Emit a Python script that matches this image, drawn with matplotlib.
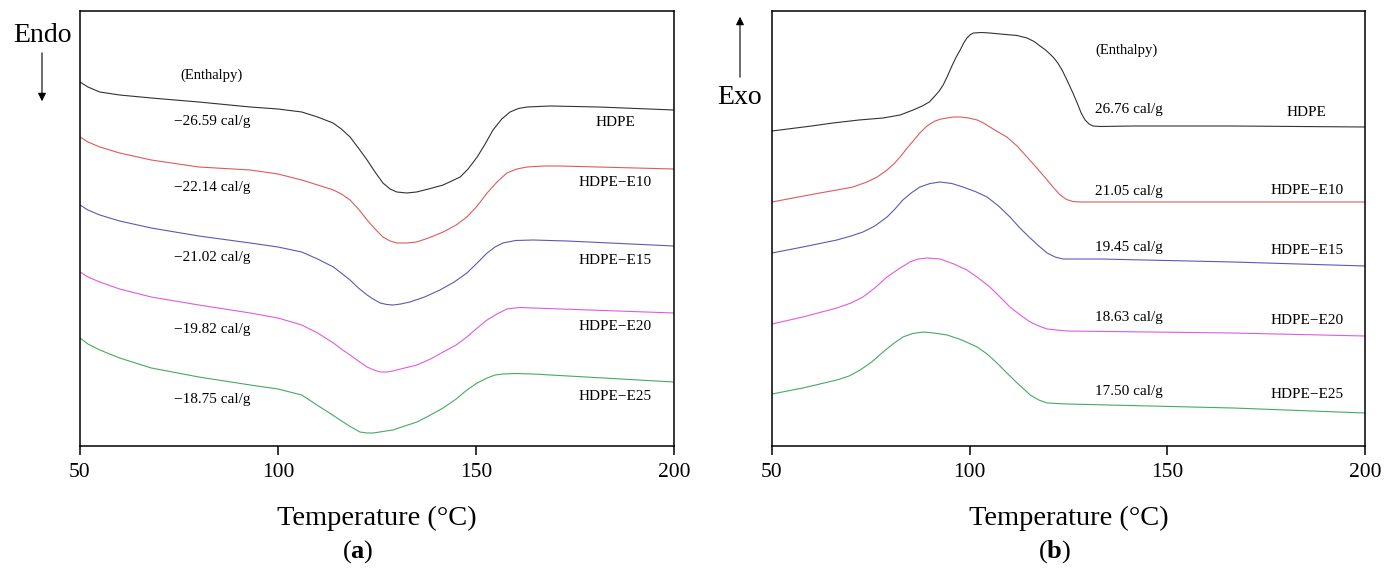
import matplotlib
matplotlib.use("Agg")
import matplotlib.pyplot as plt

plt.rcParams["font.family"] = ["Liberation Serif", "DejaVu Serif"]
plt.rcParams["mathtext.fontset"] = "custom"
plt.rcParams["mathtext.rm"] = "Liberation Serif"
plt.rcParams["mathtext.bf"] = "Liberation Serif:bold"

samples = ["HDPE", "HDPE\u2212E10", "HDPE\u2212E15", "HDPE\u2212E20", "HDPE\u2212E25"]
colors = ["#333333", "#e05a5a", "#5a5ab4", "#e05ae0", "#46aa64"]

# (a) melting curves: temperature (C) and heat flow (arbitrary units)
melt_T = [
    [50, 52, 55, 60, 68, 80, 93, 100, 106, 110, 113.9, 116, 118.2, 120.3, 122.5, 124.5, 126.5, 128.3, 130, 132.5,
     135, 138, 141.7, 146, 148, 150.3, 152.3, 154.3, 156.5, 158.6, 160.7, 162.9, 168.7, 181, 200],
    [50, 52, 55, 60, 68, 80, 93, 100, 106, 110, 114, 116, 118.2, 120.3, 122.5, 124.5, 126.5, 128.3, 130, 132.5,
     135, 138, 141.7, 145, 147.7, 150.3, 152.8, 155.3, 157.8, 160.3, 162.9, 167, 171.2, 200],
    [50, 52, 55, 60, 68, 80, 93, 100, 106, 110, 114, 118.2, 120.3, 122.5, 124, 125.8, 127.5, 129, 131, 133.3,
     137, 140.9, 144.5, 147.7, 150.3, 152.8, 154.8, 156.8, 160, 164.4, 173, 200],
    [50, 52, 55, 60, 68, 80, 93, 100, 106, 110, 114, 116, 118.2, 120.3, 122.5, 124.2, 125.8, 127.5, 129, 132,
     135.1, 138.5, 141.7, 145, 147.7, 150.3, 152.8, 155.3, 157.8, 161, 164.4, 200],
    [50, 52, 55, 60, 68, 80, 93, 100, 106, 110.6, 113, 115.7, 118, 120.7, 122.5, 124, 126.5, 129, 132, 135.1,
     138.5, 141.7, 145, 147.7, 150.3, 152.8, 154.8, 156.8, 160, 164.4, 200],
]
melt_y = [
    [364, 359, 354, 351, 348, 344, 339, 337, 334, 329, 323, 317, 309, 298, 286, 274, 263, 257, 254, 253,
     254, 257, 261, 269, 277, 289, 302, 316, 327, 334, 337.5, 339, 340, 339, 336],
    [309, 304, 299, 293, 286, 279, 276, 272, 266, 261, 256, 252, 246, 237, 226, 217, 209, 205, 203, 203,
     204, 208, 214, 221, 229, 240, 253, 264, 273, 277, 279, 280, 280, 277],
    [241, 236, 231, 225, 218, 210, 203, 199, 194, 187, 179, 166, 158, 151, 147, 143, 141.5, 141, 142, 144,
     149, 156, 164, 173, 183, 193, 199, 203, 205.5, 206, 205, 200],
    [174, 169, 164, 157, 149, 141, 133, 128, 121, 113, 103, 97, 91, 85, 79, 76, 74, 74, 75, 78,
     81, 87, 94, 101, 109, 118, 126, 132, 137, 138.5, 138, 133],
    [108, 102, 96, 88, 78, 69, 61, 57, 51, 39, 33, 26, 20, 14, 13, 13, 14.5, 16, 20, 24,
     31, 38, 47, 56, 63, 68, 71, 72, 72.5, 72, 64],
]
melt_enthalpy = ["\u221226.59 cal/g", "\u221222.14 cal/g", "\u221221.02 cal/g", "\u221219.82 cal/g", "\u221218.75 cal/g"]

# (b) crystallisation curves
cryst_T = [
    [50, 60, 65.4, 72, 78.1, 82.4, 85.7, 88, 89.8, 91.2, 92.3, 93.3, 94.4, 95.5, 96.6, 97.6, 98.5, 99.3, 100.2, 101,
     103, 105.1, 107.7, 112, 114.5, 116.3, 117.8, 119.2, 120.3, 121.3, 122.3, 123.5, 124.6, 126, 127.2, 128.2, 129.2,
     130.2, 131.2, 133, 141.3, 166.6, 200],
    [50, 56, 62.1, 66.4, 70.5, 74, 76.6, 79.1, 80.8, 82.4, 84, 85.7, 87.4, 89.2, 91.2, 92.8, 94.3, 96, 97.6, 99.7,
     101.9, 103.5, 105.1, 107.2, 109.4, 112, 114.5, 117, 119.6, 121.3, 122.9, 124.5, 126.1, 128, 141.3, 166.6, 200],
    [50, 57.8, 66.4, 70, 73, 76, 79.1, 81.1, 83.1, 85.2, 87.4, 90, 92.5, 95.5, 98.3, 101.4, 104.4, 107.3, 110.2, 112.7,
     115.3, 117.5, 119.6, 121.6, 123.6, 128, 133, 166.6, 200],
    [50, 57.8, 66.4, 70, 73, 76, 79.1, 82, 84.9, 87, 89.2, 92.5, 96, 99.3, 102.2, 105.1, 107.7, 110.2, 112.8, 115.3,
     117.5, 119.6, 122, 124.6, 166.6, 200],
    [50, 57.8, 66.4, 69.5, 72.3, 75.2, 78.1, 80.6, 83.1, 85.6, 88.2, 91, 94.3, 98, 101.9, 104.4, 106.9, 109.4, 112,
     113.7, 115.3, 117.5, 119.6, 122, 124.6, 166.6, 200],
]
cryst_y = [
    [315, 320, 323, 326, 328, 331, 336, 340, 344, 350, 355, 361, 370, 380, 389, 396, 403, 408, 411.5, 413,
     413.5, 413, 412, 410.5, 408, 404.5, 400, 396, 392, 388, 383, 375, 366, 354, 343, 333, 326,
     322, 320, 319.5, 320, 320, 319],
    [244, 248.5, 253, 256, 259, 264, 269, 276, 282, 289, 297, 305, 313, 320, 325, 327, 328, 329, 329, 328,
     326, 323, 319, 314, 309, 300, 289, 278, 266, 258, 251, 246.5, 244.5, 244, 244, 244, 244],
    [193, 199, 206, 210, 214, 220, 229, 237, 246, 253, 259, 262.5, 264, 262.5, 259, 254.5, 249, 240, 229, 218,
     208, 200, 193, 189, 187, 187, 187, 184, 180],
    [122, 129, 138, 143, 149, 158, 169, 177, 184, 187, 188, 187, 182, 176, 168, 159, 149, 139, 131, 124,
     120, 117, 116, 115, 113, 110],
    [52, 58, 66, 70, 76, 84, 94, 102, 109, 112.5, 114, 113, 111, 106, 99, 92, 83, 73, 63,
     57, 51, 46, 43, 42.5, 42, 38, 33],
]
cryst_enthalpy = ["26.76 cal/g", "21.05 cal/g", "19.45 cal/g", "18.63 cal/g", "17.50 cal/g"]

# text heights (same units as heat flow)
melt_val_y = [324, 259, 188, 116, 46]
melt_lab_y = [323, 263, 185, 119, 49]
cryst_val_y = [336, 254, 198, 128, 54]
cryst_lab_y = [333, 255, 195, 125, 51]

W, H = 1399, 570
fig = plt.figure(figsize=(W / 100, H / 100), dpi=100)
ax1 = fig.add_axes([80 / W, (H - 446) / H, 594 / W, 435 / H])
ax2 = fig.add_axes([772 / W, (H - 446) / H, 593 / W, 435 / H])


def style(ax):
    ax.set_xlim(50, 200)
    ax.set_ylim(0, 435)
    ax.set_xticks([50, 100, 150, 200])
    ax.set_yticks([])
    for s in ax.spines.values():
        s.set_linewidth(1.1)
    ax.tick_params(axis="x", direction="out", length=6.5, width=1.1,
                   labelsize=15.5, pad=6)
    ax.set_xlabel("Temperature (\u00b0C)", fontsize=20.5, labelpad=17)


for i in range(5):
    ax1.plot(melt_T[i], melt_y[i], color=colors[i], lw=0.8, solid_joinstyle="round")
    ax2.plot(cryst_T[i], cryst_y[i], color=colors[i], lw=0.8, solid_joinstyle="round")
    ax1.text(83.3, melt_val_y[i], melt_enthalpy[i], fontsize=11, ha="center", va="center")
    ax1.text(185.1, melt_lab_y[i], samples[i], fontsize=11, ha="center", va="center")
    ax2.text(131.7, cryst_val_y[i], cryst_enthalpy[i], fontsize=11, ha="left", va="center")
    ax2.text(185.3, cryst_lab_y[i], samples[i], fontsize=11, ha="center", va="center")

ax1.text(83.3, 371, "(Enthalpy)", fontsize=10.5, ha="center", va="center")
ax2.text(131.7, 396, "(Enthalpy)", fontsize=10.5, ha="left", va="center")

style(ax1)
style(ax2)

fig.text(42 / W, (H - 35) / H, "Endo", fontsize=20, ha="center", va="center")
fig.text(740 / W, (H - 98) / H, "Exo", fontsize=20, ha="center", va="center")
ax1.annotate("", xy=(42, H - 104), xytext=(42, H - 50),
             xycoords="figure pixels", textcoords="figure pixels",
             arrowprops=dict(arrowstyle="-|>", color="black", lw=0.8,
                             mutation_scale=12), annotation_clip=False)
ax2.annotate("", xy=(740, H - 14), xytext=(740, H - 80),
             xycoords="figure pixels", textcoords="figure pixels",
             arrowprops=dict(arrowstyle="-|>", color="black", lw=0.8,
                             mutation_scale=12), annotation_clip=False)

fig.text(358 / W, (H - 552) / H, r"($\mathbf{a}$)", fontsize=19, ha="center", va="center")
fig.text(1055 / W, (H - 552) / H, r"($\mathbf{b}$)", fontsize=19, ha="center", va="center")

fig.savefig("out.png", dpi=100)
